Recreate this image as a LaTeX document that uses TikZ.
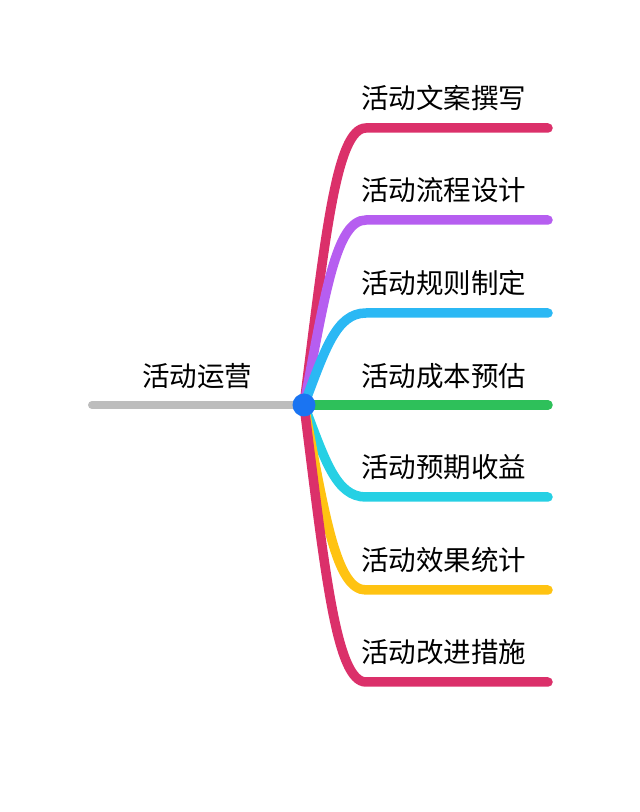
\documentclass[tikz,border=0pt]{standalone}
\usepackage{fontspec}
\newfontfamily\cjk{Noto Sans CJK SC}
\usetikzlibrary{positioning}

\definecolor{RoseRed}{HTML}{DB306A}
\definecolor{Violet}{HTML}{B65EF0}
\definecolor{Sky}{HTML}{2BB8F4}
\definecolor{Leaf}{HTML}{2EC05A}
\definecolor{Aqua}{HTML}{26D0E4}
\definecolor{Amber}{HTML}{FFC312}
\definecolor{HubBlue}{HTML}{1A74F2}
\definecolor{Stem}{HTML}{BDBDBD}

\begin{document}
\begin{tikzpicture}[
  x = 1pt, y = 1pt,
  font        = \cjk\fontsize{27.5}{27.5}\selectfont,
  % 1 unit = 1 px of the 640 x 812 layout, y counted from the bottom
  branch/.style = {line width=9.5pt, line cap=round},
  leaf/.style   = {anchor=west, inner sep=0pt},
  hubdot/.style = {circle, fill=HubBlue, minimum size=23pt, inner sep=0pt},
]
\useasboundingbox (0,0) rectangle (640,812);

% Hub at (304,407).  Branch rows: 684, 592, 499, 407, 315, 222, 130
\coordinate (hub)  at (304,407);
\coordinate (root) at (92,407);
\node[inner sep=0pt] (title) at (197,436) {活动运营};

\coordinate (copy-end)    at (548,684);
\coordinate (flow-end)    at (548,592);
\coordinate (rules-end)   at (548,499);
\coordinate (cost-end)    at (548,407);
\coordinate (gain-end)    at (548,315);
\coordinate (stats-end)   at (548,222);
\coordinate (improve-end) at (548,130);

\node[leaf] (copy)    at (361,714) {活动文案撰写};
\node[leaf] (flow)    at (361,622) {活动流程设计};
\node[leaf] (rules)   at (361,529) {活动规则制定};
\node[leaf] (cost)    at (361,436) {活动成本预估};
\node[leaf] (gain)    at (361,345) {活动预期收益};
\node[leaf] (stats)   at (361,252) {活动效果统计};
\node[leaf] (improve) at (361,160) {活动改进措施};

% ── Stem ───────────────────────────────────────────────────────────────
\draw[branch, line width=8pt, Stem] (root) -- (hub);

% ── Branches ───────────────────────────────────────────────────────────
\draw[branch, RoseRed] (hub) .. controls (325,573) and (336,684) .. (366,684)
      -- (copy-end);
\draw[branch, Violet]  (hub) .. controls (325,518) and (336,592) .. (366,592)
      -- (flow-end);
\draw[branch, Sky]     (hub) .. controls (325,462) and (336,499) .. (366,499)
      -- (rules-end);
\draw[branch, Leaf]    (hub) -- (cost-end);
\draw[branch, Aqua]    (hub) .. controls (325,352) and (336,315) .. (366,315)
      -- (gain-end);
\draw[branch, Amber]   (hub) .. controls (325,296) and (336,222) .. (366,222)
      -- (stats-end);
\draw[branch, RoseRed] (hub) .. controls (325,241) and (336,130) .. (366,130)
      -- (improve-end);

\node[hubdot] (center) at (hub) {};

\end{tikzpicture}
\end{document}
